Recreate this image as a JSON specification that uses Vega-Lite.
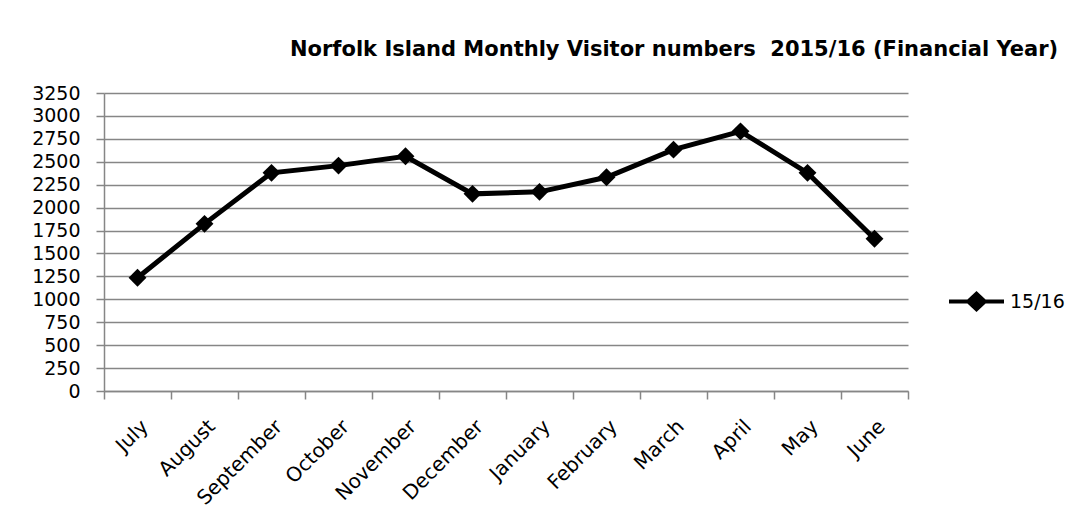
{
  "$schema": "https://vega.github.io/schema/vega-lite/v6.json",
  "width": 804,
  "height": 298,
  "autosize": {"type": "none"},
  "padding": {"left": 104, "top": 93, "right": 183, "bottom": 137},
  "background": "white",
  "config": {
    "font": "DejaVu Sans",
    "view": {"stroke": null}
  },
  "title": {
    "text": "Norfolk Island Monthly Visitor numbers\u00a0 2015/16 (Financial Year)",
    "font": "DejaVu Sans",
    "fontSize": 21,
    "fontWeight": "bold",
    "color": "black",
    "anchor": "start",
    "frame": "group",
    "dx": 186,
    "offset": 24
  },
  "data": {
    "values": [
      {"month": "July", "visitors": 1235, "series": "15/16"},
      {"month": "August", "visitors": 1823, "series": "15/16"},
      {"month": "September", "visitors": 2379, "series": "15/16"},
      {"month": "October", "visitors": 2458, "series": "15/16"},
      {"month": "November", "visitors": 2560, "series": "15/16"},
      {"month": "December", "visitors": 2150, "series": "15/16"},
      {"month": "January", "visitors": 2172, "series": "15/16"},
      {"month": "February", "visitors": 2331, "series": "15/16"},
      {"month": "March", "visitors": 2632, "series": "15/16"},
      {"month": "April", "visitors": 2832, "series": "15/16"},
      {"month": "May", "visitors": 2379, "series": "15/16"},
      {"month": "June", "visitors": 1660, "series": "15/16"}
    ]
  },
  "encoding": {
    "x": {
      "field": "month",
      "type": "nominal",
      "sort": null,
      "scale": {"paddingInner": 0, "paddingOuter": 0},
      "axis": {
        "title": null,
        "domainColor": "#868686",
        "domainWidth": 1.5,
        "tickColor": "#868686",
        "tickWidth": 1.5,
        "tickSize": 8,
        "tickBand": "extent",
        "labelAngle": -45,
        "labelAlign": "right",
        "labelBaseline": "top",
        "labelFont": "DejaVu Sans",
        "labelFontSize": 20,
        "labelColor": "black",
        "labelPadding": 17,
        "grid": false
      }
    },
    "y": {
      "field": "visitors",
      "type": "quantitative",
      "scale": {"domain": [0, 3250], "nice": false},
      "axis": {
        "title": null,
        "format": "d",
        "values": [0, 250, 500, 750, 1000, 1250, 1500, 1750, 2000, 2250, 2500, 2750, 3000, 3250],
        "domainColor": "#868686",
        "domainWidth": 1.5,
        "tickColor": "#868686",
        "tickWidth": 1.5,
        "tickSize": 8,
        "gridColor": "#868686",
        "gridWidth": 1.5,
        "gridOpacity": 1,
        "labelFont": "DejaVu Sans",
        "labelFontSize": 19,
        "labelColor": "black",
        "labelPadding": 16
      }
    },
    "color": {
      "field": "series",
      "type": "nominal",
      "scale": {"range": ["black"]},
      "legend": {
        "title": null,
        "orient": "none",
        "legendX": 843,
        "legendY": 179,
        "symbolType": "M-1,0L-0.3,0L0,-0.28L0.3,0L1,0L0.3,0L0,0.28L-0.3,0Z",
        "symbolSize": 3025,
        "symbolStrokeWidth": 4,
        "symbolFillColor": "black",
        "symbolStrokeColor": "black",
        "labelFont": "DejaVu Sans",
        "labelFontSize": 19,
        "labelColor": "black",
        "labelOffset": 4
      }
    }
  },
  "layer": [
    {"mark": {"type": "line", "strokeWidth": 5, "color": "black"}},
    {"mark": {"type": "point", "shape": "diamond", "filled": true, "size": 320, "opacity": 1, "color": "black"}}
  ]
}
